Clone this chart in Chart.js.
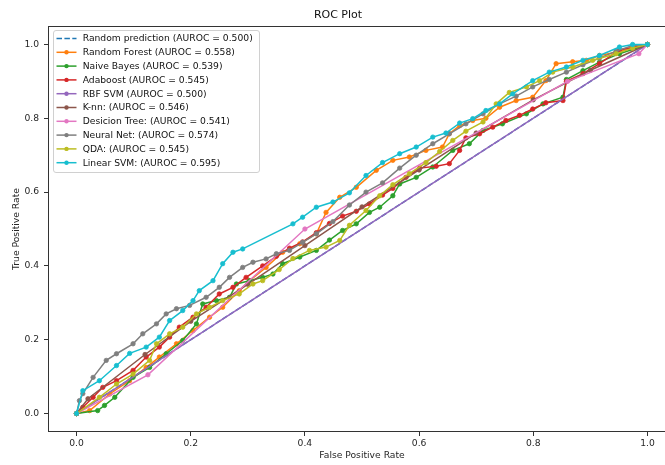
<!DOCTYPE html>
<html>
<head>
<meta charset="utf-8">
<title>ROC Plot</title>
<script src="https://cdn.jsdelivr.net/npm/chart.js@4.4.0/dist/chart.umd.min.js"></script>
<style>
  html, body { margin: 0; padding: 0; background: #fff; overflow: hidden; }
  #wrap { width: 680px; height: 465px; }
</style>
</head>
<body>
<div id="wrap"><canvas id="rocChart" width="680" height="465"></canvas></div>
<script>
// ===============================
// ROC Plot – data
// ===============================
const tickValues = [0.0, 0.2, 0.4, 0.6, 0.8, 1.0];

const modelNames = [
  "Random prediction (AUROC = 0.500)",
  "Random Forest (AUROC = 0.558)",
  "Naive Bayes (AUROC = 0.539)",
  "Adaboost (AUROC = 0.545)",
  "RBF SVM (AUROC = 0.500)",
  "K-nn: (AUROC = 0.546)",
  "Desicion Tree: (AUROC = 0.541)",
  "Neural Net: (AUROC = 0.574)",
  "QDA: (AUROC = 0.545)",
  "Linear SVM: (AUROC = 0.595)"
];

const randomFpr = [0, 1];
const randomTpr = [0, 1];

const rfFpr = [0, 0.023, 0.058, 0.093, 0.122, 0.145, 0.175, 0.204, 0.233, 0.256, 0.285, 0.303, 0.332, 0.361, 0.391, 0.42, 0.437, 0.461, 0.49, 0.525, 0.554, 0.583, 0.612, 0.641, 0.653, 0.671, 0.694, 0.717, 0.741, 0.77, 0.799, 0.822, 0.84, 0.869, 0.893, 0.916, 0.945, 0.974, 1.0];
const rfTpr = [0, 0.008, 0.053, 0.089, 0.125, 0.153, 0.189, 0.225, 0.261, 0.288, 0.333, 0.36, 0.396, 0.437, 0.46, 0.487, 0.545, 0.586, 0.613, 0.659, 0.686, 0.695, 0.713, 0.722, 0.758, 0.78, 0.794, 0.8, 0.83, 0.848, 0.857, 0.902, 0.948, 0.953, 0.957, 0.97, 0.979, 0.99, 1.0];

const nbFpr = [0, 0.037, 0.049, 0.067, 0.099, 0.128, 0.157, 0.186, 0.21, 0.221, 0.245, 0.268, 0.28, 0.303, 0.326, 0.344, 0.361, 0.391, 0.42, 0.443, 0.466, 0.49, 0.513, 0.531, 0.554, 0.566, 0.595, 0.624, 0.659, 0.688, 0.712, 0.746, 0.788, 0.817, 0.852, 0.858, 0.887, 0.916, 0.951, 1.0];
const nbTpr = [0, 0.008, 0.022, 0.044, 0.098, 0.125, 0.162, 0.198, 0.243, 0.297, 0.306, 0.315, 0.351, 0.36, 0.369, 0.378, 0.406, 0.424, 0.442, 0.47, 0.496, 0.514, 0.545, 0.559, 0.59, 0.622, 0.64, 0.668, 0.713, 0.731, 0.767, 0.785, 0.812, 0.839, 0.857, 0.905, 0.929, 0.952, 0.975, 1.0];

const adaFpr = [0, 0.011, 0.029, 0.046, 0.07, 0.099, 0.122, 0.145, 0.163, 0.18, 0.204, 0.227, 0.25, 0.274, 0.297, 0.326, 0.35, 0.373, 0.396, 0.42, 0.443, 0.466, 0.49, 0.513, 0.536, 0.554, 0.577, 0.601, 0.63, 0.653, 0.671, 0.682, 0.706, 0.729, 0.752, 0.776, 0.799, 0.822, 0.852, 0.858, 0.887, 0.916, 0.951, 1.0];
const adaTpr = [0, 0.017, 0.044, 0.071, 0.089, 0.117, 0.153, 0.18, 0.207, 0.234, 0.261, 0.288, 0.324, 0.342, 0.369, 0.4, 0.426, 0.448, 0.465, 0.49, 0.515, 0.535, 0.548, 0.568, 0.592, 0.61, 0.64, 0.665, 0.67, 0.677, 0.713, 0.747, 0.758, 0.776, 0.794, 0.808, 0.825, 0.842, 0.848, 0.9, 0.921, 0.948, 0.985, 1.0];

const rbfFpr = [0, 1];
const rbfTpr = [0, 1];

const knnFpr = [0, 0.02, 0.12, 0.2, 0.3, 0.4, 0.5, 0.6, 0.7, 0.8, 0.9, 1.0];
const knnTpr = [0, 0.04, 0.16, 0.25, 0.35, 0.455, 0.56, 0.66, 0.76, 0.85, 0.93, 1.0];

const dtFpr = [0, 0.125, 0.4, 0.86, 0.985, 1.0];
const dtTpr = [0, 0.105, 0.5, 0.9, 0.975, 1.0];

const nnFpr = [0, 0.005, 0.011, 0.029, 0.052, 0.07, 0.099, 0.116, 0.14, 0.157, 0.175, 0.198, 0.227, 0.25, 0.268, 0.291, 0.309, 0.332, 0.35, 0.373, 0.396, 0.42, 0.449, 0.478, 0.507, 0.536, 0.566, 0.595, 0.624, 0.653, 0.682, 0.712, 0.741, 0.77, 0.799, 0.828, 0.858, 0.887, 0.916, 0.945, 0.974, 1.0];
const nnTpr = [0, 0.035, 0.054, 0.098, 0.144, 0.162, 0.189, 0.216, 0.243, 0.27, 0.284, 0.293, 0.315, 0.342, 0.369, 0.396, 0.41, 0.419, 0.433, 0.442, 0.464, 0.487, 0.52, 0.565, 0.6, 0.625, 0.665, 0.7, 0.731, 0.758, 0.785, 0.812, 0.839, 0.86, 0.885, 0.905, 0.925, 0.945, 0.963, 0.982, 0.997, 1.0];

const qdaFpr = [0, 0.04, 0.07, 0.099, 0.128, 0.14, 0.163, 0.186, 0.21, 0.233, 0.256, 0.285, 0.309, 0.326, 0.355, 0.379, 0.408, 0.437, 0.461, 0.478, 0.507, 0.531, 0.554, 0.583, 0.612, 0.636, 0.659, 0.682, 0.712, 0.735, 0.758, 0.788, 0.811, 0.834, 0.869, 0.904, 0.945, 0.974, 1.0];
const qdaTpr = [0, 0.044, 0.08, 0.107, 0.144, 0.189, 0.216, 0.234, 0.27, 0.288, 0.306, 0.324, 0.351, 0.36, 0.39, 0.42, 0.442, 0.451, 0.469, 0.51, 0.55, 0.59, 0.62, 0.65, 0.68, 0.71, 0.74, 0.765, 0.79, 0.839, 0.87, 0.885, 0.902, 0.925, 0.939, 0.957, 0.975, 0.99, 1.0];

const svmFpr = [0, 0.011, 0.04, 0.07, 0.093, 0.122, 0.145, 0.163, 0.186, 0.204, 0.215, 0.239, 0.256, 0.274, 0.291, 0.379, 0.396, 0.42, 0.449, 0.478, 0.507, 0.536, 0.566, 0.595, 0.624, 0.647, 0.671, 0.694, 0.717, 0.741, 0.764, 0.799, 0.828, 0.858, 0.887, 0.916, 0.951, 0.974, 1.0];
const svmTpr = [0, 0.062, 0.089, 0.13, 0.163, 0.18, 0.207, 0.252, 0.279, 0.306, 0.333, 0.36, 0.406, 0.437, 0.446, 0.514, 0.532, 0.559, 0.573, 0.598, 0.645, 0.68, 0.704, 0.722, 0.749, 0.76, 0.787, 0.799, 0.821, 0.839, 0.866, 0.902, 0.925, 0.939, 0.957, 0.97, 0.993, 1.0, 1.0];

// ===============================
// Styling (matplotlib tab10 look)
// ===============================
const FONT = '"DejaVu Sans", "Liberation Sans", sans-serif';
const TEXT_COLOR = "#262626";
const palette = ["#1f77b4", "#ff7f0e", "#2ca02c", "#d62728", "#9467bd", "#8c564b", "#e377c2", "#7f7f7f", "#bcbd22", "#17becf"];

const curves = [
  [randomFpr, randomTpr],
  [rfFpr, rfTpr],
  [nbFpr, nbTpr],
  [adaFpr, adaTpr],
  [rbfFpr, rbfTpr],
  [knnFpr, knnTpr],
  [dtFpr, dtTpr],
  [nnFpr, nnTpr],
  [qdaFpr, qdaTpr],
  [svmFpr, svmTpr]
];

function toPoints(fpr, tpr) {
  return fpr.map((x, i) => ({ x: x, y: tpr[i] }));
}

const datasets = curves.map(([fpr, tpr], i) => ({
  label: modelNames[i],
  data: toPoints(fpr, tpr),
  borderColor: palette[i],
  backgroundColor: palette[i],
  borderWidth: 1.5,
  borderDash: i === 0 ? [5.5, 2.4] : [],
  pointRadius: i === 0 ? 0 : 2.2,
  pointBorderWidth: 0.8,
  pointHoverRadius: 0,
  showLine: true,
  tension: 0,
  // later series sit on top, like matplotlib
  order: curves.length - i
}));

// Frame on all four sides + legend inside the axes (upper left)
const frameAndLegend = {
  id: "frameAndLegend",
  afterDraw(chart) {
    const ctx = chart.ctx;
    const a = chart.chartArea;

    ctx.save();
    ctx.strokeStyle = "#333";
    ctx.lineWidth = 1;
    ctx.strokeRect(a.left + 0.5, a.top + 0.5, a.right - a.left - 1, a.bottom - a.top - 1);

    // legend box
    const boxX = 53.5, boxY = 30.5, boxW = 206, boxH = 142;
    ctx.beginPath();
    ctx.roundRect(boxX, boxY, boxW, boxH, 2.5);
    ctx.fillStyle = "rgba(255,255,255,0.8)";
    ctx.fill();
    ctx.strokeStyle = "#d0d0d0";
    ctx.stroke();

    ctx.font = "9.2px " + FONT;
    ctx.textBaseline = "middle";
    ctx.textAlign = "left";

    chart.data.datasets.forEach((ds, i) => {
      const y = 38.5 + i * 13.8;
      ctx.strokeStyle = ds.borderColor;
      ctx.lineWidth = 1.5;
      ctx.setLineDash(ds.borderDash);
      ctx.beginPath();
      ctx.moveTo(56.5, y);
      ctx.lineTo(76.5, y);
      ctx.stroke();
      ctx.setLineDash([]);

      if (ds.pointRadius > 0) {
        ctx.beginPath();
        ctx.arc(66.5, y, 2.2, 0, Math.PI * 2);
        ctx.fillStyle = ds.backgroundColor;
        ctx.fill();
      }

      ctx.fillStyle = "#111";
      ctx.fillText(ds.label, 82.7, y + 0.5);
    });
    ctx.restore();
  }
};

const tickFont = { family: FONT, size: 9.2 };

new Chart(document.getElementById("rocChart"), {
  type: "scatter",
  data: { datasets: datasets },
  options: {
    responsive: false,
    animation: false,
    events: [],
    layout: { padding: { left: 0, right: 4, top: 0, bottom: 0 } },
    plugins: {
      legend: { display: false },
      tooltip: { enabled: false },
      title: {
        display: true,
        text: "ROC Plot",
        color: "#111",
        font: { family: FONT, size: 11, weight: "normal" },
        padding: { top: 8.4, bottom: 4.4 }
      }
    },
    scales: {
      x: {
        type: "linear",
        min: -0.05,
        max: 1.05,
        afterBuildTicks: scale => {
          scale.ticks = tickValues.map(v => ({ value: v }));
        },
        afterFit: scale => { scale.height = 33; },
        ticks: {
          callback: v => v.toFixed(1),
          font: tickFont,
          color: TEXT_COLOR,
          padding: 2.5,
          maxRotation: 0,
          autoSkip: false
        },
        grid: { drawOnChartArea: false, drawTicks: true, tickLength: 4, tickColor: "#333" },
        border: { display: false },
        title: {
          display: true,
          text: "False Positive Rate",
          color: TEXT_COLOR,
          font: tickFont,
          padding: { top: 0, bottom: 3.5 }
        }
      },
      y: {
        type: "linear",
        min: -0.05,
        max: 1.05,
        afterBuildTicks: scale => {
          scale.ticks = tickValues.map(v => ({ value: v }));
        },
        afterFit: scale => { scale.width = 48; },
        ticks: {
          callback: v => v.toFixed(1),
          font: tickFont,
          color: TEXT_COLOR,
          padding: 5,
          autoSkip: false
        },
        grid: { drawOnChartArea: false, drawTicks: true, tickLength: 4, tickColor: "#333" },
        border: { display: false },
        title: {
          display: true,
          text: "True Positive Rate",
          color: TEXT_COLOR,
          font: tickFont,
          padding: { top: 11.2, bottom: 0 }
        }
      }
    }
  },
  plugins: [frameAndLegend]
});
</script>
</body>
</html>
